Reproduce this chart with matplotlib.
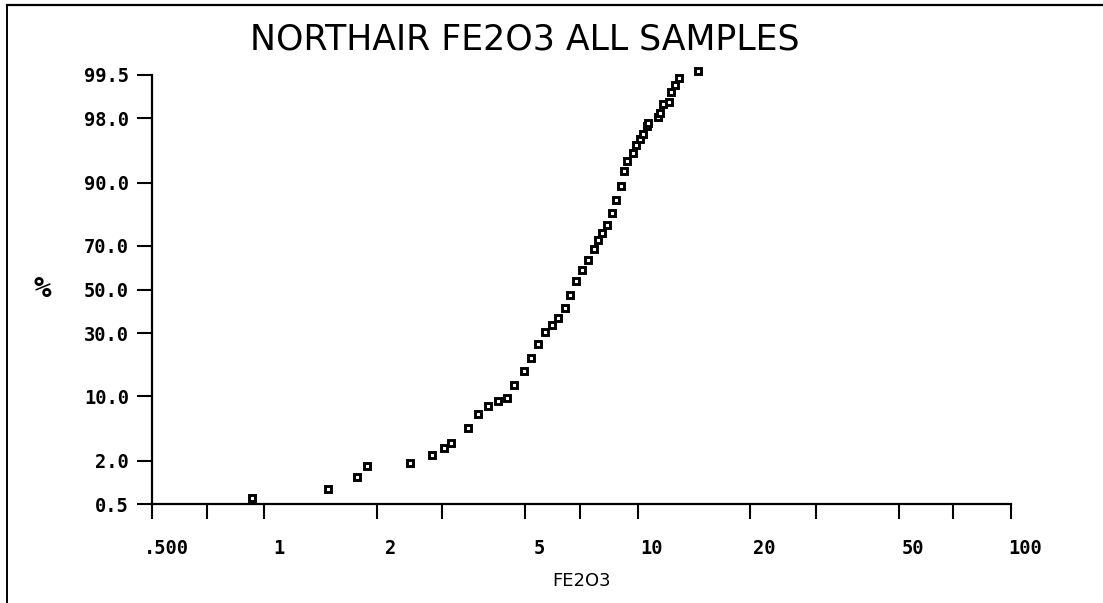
import numpy as np
import matplotlib
matplotlib.use("Agg")
import matplotlib.pyplot as plt
from matplotlib.lines import Line2D
from matplotlib.ticker import FixedLocator, NullLocator
import matplotlib.transforms as mtransforms
from statistics import NormalDist

TITLE = "NORTHAIR FE2O3 ALL SAMPLES"
X_LABEL = "FE2O3"
Y_LABEL = "%"

# FE2O3 value and cumulative percent
fe2o3 = [0.925, 1.48, 1.77, 1.88, 2.46, 2.81, 3.02, 3.16, 3.52, 3.74,
         3.98, 4.23, 4.47, 4.66, 4.97, 5.18, 5.41, 5.66, 5.89, 6.13,
         6.38, 6.59, 6.84, 7.08, 7.34, 7.64, 7.82, 8.03, 8.30, 8.54,
         8.75, 9.00, 9.21, 9.39, 9.73, 9.92, 10.17, 10.35, 10.57, 10.68,
         11.36, 11.48, 11.67, 12.15, 12.26, 12.59, 12.93, 14.53]
percent = [0.61, 0.82, 1.23, 1.70, 1.88, 2.33, 2.87, 3.24, 4.78, 6.69,
           8.03, 9.03, 9.53, 12.6, 16.5, 20.7, 25.5, 30.3, 33.7, 36.7,
           41.3, 47.5, 54.1, 59.2, 63.8, 68.5, 72.2, 75.0, 78.0, 82.1,
           85.9, 89.2, 92.3, 93.9, 94.9, 95.9, 96.5, 96.9, 97.5, 97.7,
           98.1, 98.3, 98.7, 98.8, 99.12, 99.30, 99.45, 99.56]

x_ticks = [0.5, 0.7, 1, 2, 3, 5, 7, 10, 20, 30, 50, 70, 100]
x_tick_labels = [".500", "", "1", "2", "", "5", "", "10", "20", "", "50", "", "100"]
y_ticks = [0.5, 2.0, 10.0, 30.0, 50.0, 70.0, 90.0, 98.0, 99.5]
y_tick_labels = ["0.5", "2.0", "10.0", "30.0", "50.0", "70.0", "90.0", "98.0", "99.5"]

_nd = NormalDist()


def prob_fwd(p):
    p = np.clip(np.asarray(p, dtype=float) / 100.0, 1e-9, 1 - 1e-9)
    return np.vectorize(_nd.inv_cdf, otypes=[float])(p)


def prob_inv(z):
    return np.vectorize(_nd.cdf, otypes=[float])(np.asarray(z, dtype=float)) * 100.0


W, H = 1103, 603
fig = plt.figure(figsize=(W / 100, H / 100), dpi=100)
ax = fig.add_axes([152 / W, 1 - 504 / H, (1011 - 152) / W, (504 - 75) / H])

ax.set_xscale("log")
ax.set_yscale("function", functions=(prob_fwd, prob_inv))
ax.set_xlim(0.5, 100)
ax.set_ylim(0.5, 99.5)

ax.plot(fe2o3, percent, linestyle="none", marker="s", ms=4.4, mew=2.1,
        mec="black", mfc="white", clip_on=False, zorder=3)

for side in ("top", "right"):
    ax.spines[side].set_visible(False)
for side in ("left", "bottom"):
    ax.spines[side].set_linewidth(1.6)

ax.xaxis.set_major_locator(FixedLocator(x_ticks))
ax.xaxis.set_minor_locator(NullLocator())
ax.set_xticklabels(x_tick_labels)
ax.yaxis.set_major_locator(FixedLocator(y_ticks))
ax.yaxis.set_minor_locator(NullLocator())
ax.set_yticklabels(y_tick_labels)

tick_font = dict(family="DejaVu Sans Mono", weight="bold", size=13.5)
ax.tick_params(axis="both", direction="out", length=10.5, width=1.5, color="black")
ax.tick_params(axis="y", pad=6)
ax.tick_params(axis="x", pad=15)
for lab in ax.get_xticklabels() + ax.get_yticklabels():
    lab.set_fontfamily(tick_font["family"])
    lab.set_fontweight(tick_font["weight"])
    lab.set_fontsize(tick_font["size"])

offset = mtransforms.ScaledTranslation(14 / 100, 0, fig.dpi_scale_trans)
for lab in ax.get_xticklabels():
    lab.set_transform(lab.get_transform() + offset)

ax.set_xlabel(X_LABEL, fontsize=13, family="DejaVu Sans", va="center")
ax.xaxis.set_label_coords(0.5, (504 - 581) / 429)
ax.set_ylabel(Y_LABEL, fontsize=21, fontweight="bold", rotation=0,
              family="DejaVu Sans Mono", va="center", ha="center")
ax.yaxis.set_label_coords((42 - 152) / 859, (504 - 289) / 429)

fig.text(525 / W, 1 - 40 / H, TITLE, ha="center", va="center",
         fontsize=25, family="DejaVu Sans")

# page frame (top and left edges of the original plot sheet)
fig.add_artist(Line2D([7 / W, 7 / W], [0, 1 - 5 / H], color="black", lw=1.4,
                      transform=fig.transFigure))
fig.add_artist(Line2D([7 / W, 1], [1 - 5 / H, 1 - 5 / H], color="black", lw=1.6,
                      transform=fig.transFigure))

fig.savefig("out.png", dpi=100)
